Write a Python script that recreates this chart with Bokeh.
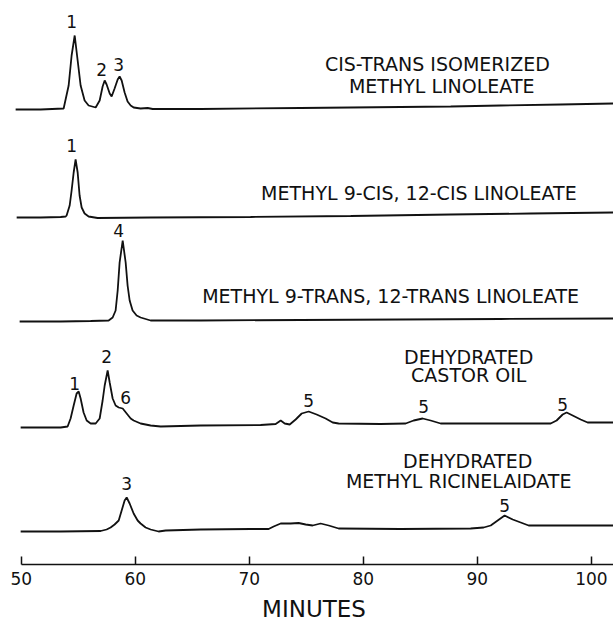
from bokeh.plotting import figure
from bokeh.models import Range1d, FixedTicker
from bokeh.core.properties import value
from bokeh.embed import file_html
from bokeh.resources import INLINE

# ---- chromatogram traces (retention time in minutes, detector response above own baseline)
minutes_1 = [49.50, 51.69, 53.71, 54.15, 54.41, 54.68, 54.94, 55.20, 55.55, 55.90, 56.52, 56.87,
             57.13, 57.31, 57.48, 57.75, 57.92, 58.18, 58.45, 58.62, 58.80, 59.06, 59.32, 59.59,
             59.85, 60.46, 61.08, 61.52, 65.73, 74.50, 83.27, 87.66, 92.04, 97.31, 101.96]
signal_1 = [0, 0, 1, 24, 54, 74, 49, 24, 9, 4, 2, 9,
            23, 29, 25, 16, 13, 21, 30, 33, 29, 17, 8, 4,
            2, 1, 1.5, 0.5, 0.5, 1.5, 2.5, 3, 4, 5, 6]

minutes_2 = [49.59, 51.69, 53.45, 53.89, 53.97, 54.24, 54.41, 54.59, 54.76, 54.94, 55.11, 55.29,
             55.55, 55.90, 56.69, 61.34, 70.11, 78.89, 87.66, 94.68, 101.96]
signal_2 = [0, 0, 0.5, 1, 2, 12, 27, 45, 58, 45, 22, 10,
            4, 1, -0.5, 0, 0.5, 1.5, 3, 4, 5]

minutes_3 = [49.85, 53.45, 56.08, 57.66, 58.01, 58.27, 58.45, 58.62, 58.89, 59.15, 59.32, 59.50,
             59.76, 60.11, 60.46, 61.34, 65.73, 74.50, 83.27, 92.04, 101.96]
signal_3 = [0, 0, 0.5, 1, 4, 11, 31, 59, 81, 59, 36, 21,
            11, 6, 4, 1, 1, 1.5, 2, 2.5, 3]

minutes_4 = [49.94, 53.45, 54.06, 54.32, 54.59, 54.85, 55.03, 55.20, 55.46, 55.73, 56.08, 56.52,
             56.87, 57.13, 57.31, 57.57, 57.75, 58.01, 58.27, 58.54, 58.89, 59.24, 59.59, 59.85,
             60.46, 61.34, 62.22, 65.73, 70.99, 72.31, 72.75, 73.10, 73.54, 74.06, 74.59, 75.20,
             75.90, 76.69, 77.31, 77.83, 81.52, 83.71, 84.41, 85.20, 85.90, 86.78, 92.04, 96.43,
             96.95, 97.48, 97.83, 98.36, 99.06, 99.67, 101.96]
signal_4 = [0, 0, 1, 9, 22, 34, 36, 29, 15, 7, 4, 4,
            9, 27, 42, 57, 45, 29, 22, 20, 19, 14, 9, 7,
            4, 2, 1, 2, 2.5, 3.5, 7, 4, 3, 8, 14, 16,
            13, 9, 5, 4, 3.5, 4, 7, 9, 7, 4, 4, 4,
            7, 13, 15, 12, 8, 5, 5]

minutes_5 = [49.94, 53.45, 56.96, 57.48, 57.83, 58.18, 58.54, 58.80, 59.06, 59.24, 59.50, 59.85,
             60.20, 60.46, 60.90, 61.34, 62.04, 62.66, 65.73, 70.11, 71.69, 72.13, 72.75, 73.62,
             74.32, 74.94, 75.55, 76.25, 76.96, 77.83, 83.27, 89.41, 90.55, 91.17, 91.78, 92.39,
             93.10, 93.80, 94.50, 96.43, 101.96]
signal_5 = [0, 0, 0.5, 2, 4, 7, 11, 21, 31, 34, 28, 18,
            11, 8, 4, 2, 0, 1, 2, 2.5, 2.5, 5, 8, 8,
            8.5, 7, 6, 8, 6, 3, 2.5, 3, 4, 6, 11, 16,
            12, 9, 6, 6, 6]

trace_minutes = [minutes_1, minutes_2, minutes_3, minutes_4, minutes_5]
trace_signals = [signal_1, signal_2, signal_3, signal_4, signal_5]
trace_offsets = [455, 347, 243, 137, 33]

# ---- sample names
sample_text = ["CIS-TRANS ISOMERIZED", "METHYL LINOLEATE",
               "METHYL 9-CIS, 12-CIS LINOLEATE",
               "METHYL 9-TRANS, 12-TRANS LINOLEATE",
               "DEHYDRATED", "CASTOR OIL",
               "DEHYDRATED", "METHYL RICINELAIDATE"]
sample_x = [86.49, 86.87, 84.87, 82.39, 89.24, 89.24, 89.15, 88.36]
sample_y = [501, 479, 372, 269, 208, 190, 104, 84]

# ---- peak numbers
peak_text = ["1", "2", "3", "1", "4", "1", "2", "6", "5", "5", "5", "3", "5"]
peak_x = [54.41, 57.04, 58.54, 54.41, 58.54, 54.68, 57.48, 59.15, 75.20, 85.29, 97.48, 59.24, 92.39]
peak_y = [543, 495, 500, 419, 334, 181, 208, 167, 164, 158, 160, 81, 59]

tick_values = [50, 60, 70, 80, 90, 100]
x_label = "MINUTES"

FONT = "DejaVu Sans"
INK = "#111111"

p = figure(width=613, height=626, output_backend="svg", toolbar_location=None,
           x_range=Range1d(49.4, 101.94), y_range=Range1d(0, 556),
           y_axis_location=None, min_border_left=14, min_border_right=0,
           min_border_top=8, min_border_bottom=62)
p.outline_line_color = None
p.xgrid.visible = False
p.ygrid.visible = False
p.background_fill_color = "white"
p.border_fill_color = "white"

for xs, ys, off in zip(trace_minutes, trace_signals, trace_offsets):
    p.line(xs, [y + off for y in ys], line_color=INK, line_width=1.8)

p.text(x=sample_x, y=sample_y, text=sample_text, text_align="center", text_baseline="middle",
       text_font=value(FONT), text_font_size="19px", text_color=INK)
p.text(x=peak_x, y=peak_y, text=peak_text, text_align="center", text_baseline="middle",
       text_font=value(FONT), text_font_size="17px", text_color=INK)

ax = p.xaxis[0]
ax.ticker = FixedTicker(ticks=tick_values)
ax.bounds = (50, 101.94)
ax.major_tick_in = 8
ax.major_tick_out = 0
ax.minor_tick_in = 0
ax.minor_tick_out = 0
ax.axis_line_width = 1.5
ax.axis_line_color = INK
ax.major_tick_line_width = 1.5
ax.major_tick_line_color = INK
ax.major_label_standoff = 7
ax.major_label_text_font = FONT
ax.major_label_text_font_size = "17px"
ax.major_label_text_color = INK
ax.axis_label = x_label
ax.axis_label_standoff = 8
ax.axis_label_text_font = FONT
ax.axis_label_text_font_size = "23px"
ax.axis_label_text_font_style = "normal"
ax.axis_label_text_color = INK

open("out.html", "w").write(file_html(p, INLINE))
